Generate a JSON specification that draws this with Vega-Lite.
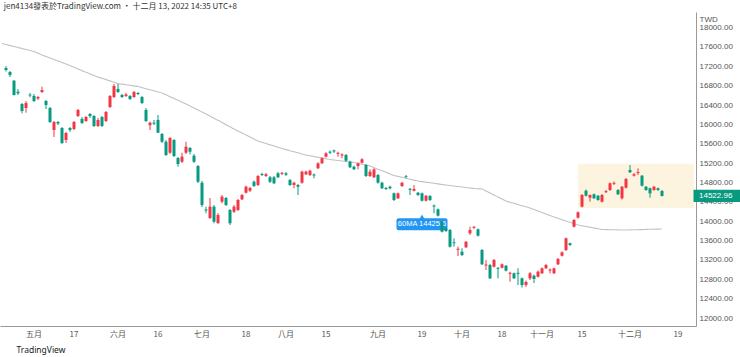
{
"$schema":"https://vega.github.io/schema/vega-lite/v6.json",
"width":696,"height":314,
"autosize":{"type":"none"},
"padding":{"left":0,"top":12,"right":44,"bottom":31},
"background":"#ffffff",
"title":{"text":"jen4134發表於TradingView.com · 十二月 13, 2022 14:35 UTC+8","anchor":"start","fontSize":8,"fontWeight":"normal","color":"#333333","font":"Noto Sans CJK TC","offset":1,"dx":4},
"config":{"view":{"stroke":null}},
"datasets":{
"box":[{"from":"2022-11-14","to":"2022-12-23","top":15190,"bottom":14275}],
"ann":[{"d":"2022-09-19","top":14060,"bottom":13814,"mid":13937,"tip":14090,"label":"60MA 14425.6"}],
"last":[{"d":"2022-12-23","p":14522.96,"top":14650,"bottom":14400,"label":"14522.96"}],
"bars":[
{"d":"2022-04-20","ma":17672},
{"d":"2022-04-21","o":17166,"h":17207,"l":17094,"c":17125,"ma":17652},
{"d":"2022-04-22","o":17083,"h":17104,"l":16980,"c":17021,"ma":17631},
{"d":"2022-04-25","o":16904,"h":16918,"l":16598,"c":16608,"ma":17610},
{"d":"2022-04-26","o":16676,"h":16732,"l":16608,"c":16643,"ma":17590},
{"d":"2022-04-27","o":16422,"h":16443,"l":16230,"c":16278,"ma":17569},
{"d":"2022-04-28","o":16340,"h":16484,"l":16243,"c":16443,"ma":17548},
{"d":"2022-04-29","o":16615,"h":16650,"l":16561,"c":16598,"ma":17528},
{"d":"2022-05-03","o":16588,"h":16629,"l":16464,"c":16484,"ma":17507},
{"d":"2022-05-04","o":16536,"h":16588,"l":16505,"c":16567,"ma":17472},
{"d":"2022-05-05","o":16670,"h":16780,"l":16650,"c":16712,"ma":17435},
{"d":"2022-05-06","o":16484,"h":16505,"l":16319,"c":16402,"ma":17404},
{"d":"2022-05-09","o":16340,"h":16360,"l":16030,"c":16050,"ma":17373},
{"d":"2022-05-10","o":15885,"h":16071,"l":15741,"c":16050,"ma":17342},
{"d":"2022-05-11","o":16050,"h":16071,"l":15988,"c":16019,"ma":17311},
{"d":"2022-05-12","o":15927,"h":15947,"l":15597,"c":15617,"ma":17280},
{"d":"2022-05-13","o":15679,"h":15844,"l":15617,"c":15823,"ma":17249},
{"d":"2022-05-16","o":15927,"h":15947,"l":15844,"c":15885,"ma":17216},
{"d":"2022-05-17","o":15906,"h":16071,"l":15885,"c":16050,"ma":17181},
{"d":"2022-05-18","o":16174,"h":16319,"l":16154,"c":16298,"ma":17145},
{"d":"2022-05-19","o":16112,"h":16154,"l":16009,"c":16030,"ma":17112},
{"d":"2022-05-20","o":16071,"h":16174,"l":16050,"c":16154,"ma":17079},
{"d":"2022-05-23","o":16216,"h":16236,"l":16133,"c":16174,"ma":17044},
{"d":"2022-05-24","o":16174,"h":16195,"l":15947,"c":15968,"ma":17011},
{"d":"2022-05-25","o":15968,"h":16133,"l":15947,"c":16092,"ma":16980},
{"d":"2022-05-26","o":16154,"h":16174,"l":15947,"c":15968,"ma":16953},
{"d":"2022-05-27","o":16071,"h":16278,"l":16050,"c":16257,"ma":16926},
{"d":"2022-05-30","o":16360,"h":16608,"l":16340,"c":16588,"ma":16900},
{"d":"2022-05-31","o":16567,"h":16836,"l":16546,"c":16794,"ma":16873},
{"d":"2022-06-01","o":16732,"h":16836,"l":16650,"c":16670,"ma":16846},
{"d":"2022-06-02","o":16608,"h":16629,"l":16546,"c":16567,"ma":16833},
{"d":"2022-06-06","o":16588,"h":16650,"l":16567,"c":16619,"ma":16821},
{"d":"2022-06-07","o":16588,"h":16608,"l":16505,"c":16526,"ma":16809},
{"d":"2022-06-08","o":16567,"h":16691,"l":16546,"c":16670,"ma":16796},
{"d":"2022-06-09","o":16650,"h":16670,"l":16608,"c":16629,"ma":16784},
{"d":"2022-06-10","o":16567,"h":16588,"l":16422,"c":16443,"ma":16761},
{"d":"2022-06-13","o":16298,"h":16340,"l":16050,"c":16071,"ma":16738},
{"d":"2022-06-14","o":15984,"h":16057,"l":15885,"c":16036,"ma":16716},
{"d":"2022-06-15","o":16036,"h":16092,"l":15988,"c":16015,"ma":16695},
{"d":"2022-06-16","o":16092,"h":16195,"l":15823,"c":15829,"ma":16672},
{"d":"2022-06-17","o":15803,"h":15823,"l":15617,"c":15643,"ma":16650},
{"d":"2022-06-20","o":15643,"h":15679,"l":15348,"c":15369,"ma":16612},
{"d":"2022-06-21","o":15416,"h":15741,"l":15389,"c":15720,"ma":16573},
{"d":"2022-06-22","o":15679,"h":15699,"l":15327,"c":15348,"ma":16536},
{"d":"2022-06-23","o":15307,"h":15327,"l":15127,"c":15183,"ma":16499},
{"d":"2022-06-24","o":15230,"h":15416,"l":15203,"c":15334,"ma":16460},
{"d":"2022-06-27","o":15416,"h":15643,"l":15389,"c":15540,"ma":16422},
{"d":"2022-06-28","o":15513,"h":15534,"l":15381,"c":15437,"ma":16381},
{"d":"2022-06-29","o":15354,"h":15389,"l":15203,"c":15230,"ma":16340},
{"d":"2022-06-30","o":15141,"h":15162,"l":14790,"c":14817,"ma":16298},
{"d":"2022-07-01","o":14796,"h":14832,"l":14294,"c":14336,"ma":16257},
{"d":"2022-07-04","o":14243,"h":14301,"l":14164,"c":14222,"ma":16216},
{"d":"2022-07-05","o":14067,"h":14480,"l":14046,"c":14301,"ma":16174},
{"d":"2022-07-06","o":14301,"h":14336,"l":13958,"c":13991,"ma":16129},
{"d":"2022-07-07","o":13964,"h":14170,"l":13943,"c":14129,"ma":16086},
{"d":"2022-07-08","o":14404,"h":14542,"l":14371,"c":14507,"ma":16040},
{"d":"2022-07-11","o":14480,"h":14501,"l":14315,"c":14336,"ma":15995},
{"d":"2022-07-12","o":14232,"h":14253,"l":13922,"c":13958,"ma":15951},
{"d":"2022-07-13","o":14197,"h":14336,"l":14170,"c":14301,"ma":15906},
{"d":"2022-07-14","o":14232,"h":14460,"l":14212,"c":14439,"ma":15865},
{"d":"2022-07-15","o":14453,"h":14563,"l":14439,"c":14542,"ma":15823},
{"d":"2022-07-18","o":14590,"h":14735,"l":14573,"c":14714,"ma":15782},
{"d":"2022-07-19","o":14631,"h":14708,"l":14604,"c":14687,"ma":15741},
{"d":"2022-07-20","o":14817,"h":14842,"l":14708,"c":14728,"ma":15699},
{"d":"2022-07-21","o":14749,"h":14956,"l":14728,"c":14935,"ma":15658},
{"d":"2022-07-22","o":14976,"h":15003,"l":14935,"c":14956,"ma":15631},
{"d":"2022-07-25","o":14935,"h":14997,"l":14914,"c":14970,"ma":15606},
{"d":"2022-07-26","o":14908,"h":14935,"l":14790,"c":14817,"ma":15579},
{"d":"2022-07-27","o":14908,"h":14935,"l":14770,"c":14784,"ma":15555},
{"d":"2022-07-28","o":14991,"h":15017,"l":14894,"c":14908,"ma":15528},
{"d":"2022-07-29","o":14980,"h":15017,"l":14956,"c":15001,"ma":15503},
{"d":"2022-08-01","o":14991,"h":15017,"l":14935,"c":14962,"ma":15480},
{"d":"2022-08-02","o":14852,"h":14873,"l":14728,"c":14749,"ma":15458},
{"d":"2022-08-03","o":14749,"h":14817,"l":14681,"c":14796,"ma":15435},
{"d":"2022-08-04","o":14749,"h":14770,"l":14542,"c":14714,"ma":15414},
{"d":"2022-08-05","o":14796,"h":15044,"l":14776,"c":15024,"ma":15391},
{"d":"2022-08-08","o":14970,"h":15044,"l":14956,"c":15024,"ma":15369},
{"d":"2022-08-09","o":14956,"h":15065,"l":14935,"c":15044,"ma":15353},
{"d":"2022-08-10","o":14966,"h":14986,"l":14887,"c":14945,"ma":15338},
{"d":"2022-08-11","o":15094,"h":15218,"l":15079,"c":15197,"ma":15322},
{"d":"2022-08-12","o":15197,"h":15321,"l":15183,"c":15301,"ma":15307},
{"d":"2022-08-15","o":15334,"h":15425,"l":15317,"c":15404,"ma":15291},
{"d":"2022-08-16","o":15437,"h":15462,"l":15389,"c":15416,"ma":15276},
{"d":"2022-08-17","o":15462,"h":15482,"l":15410,"c":15441,"ma":15265},
{"d":"2022-08-18","o":15393,"h":15437,"l":15334,"c":15414,"ma":15255},
{"d":"2022-08-19","o":15358,"h":15404,"l":15301,"c":15379,"ma":15245},
{"d":"2022-08-22","o":15369,"h":15389,"l":15230,"c":15251,"ma":15234},
{"d":"2022-08-23","o":15230,"h":15251,"l":15100,"c":15115,"ma":15224},
{"d":"2022-08-24","o":15127,"h":15148,"l":15059,"c":15073,"ma":15214},
{"d":"2022-08-25","o":15141,"h":15214,"l":15073,"c":15197,"ma":15195},
{"d":"2022-08-26","o":15210,"h":15301,"l":15193,"c":15280,"ma":15179},
{"d":"2022-08-29","o":15162,"h":15183,"l":14914,"c":14935,"ma":15160},
{"d":"2022-08-30","o":14935,"h":15073,"l":14914,"c":15024,"ma":15141},
{"d":"2022-08-31","o":14908,"h":15094,"l":14894,"c":15073,"ma":15108},
{"d":"2022-09-01","o":14956,"h":14976,"l":14776,"c":14796,"ma":15075},
{"d":"2022-09-02","o":14796,"h":14817,"l":14666,"c":14681,"ma":15042},
{"d":"2022-09-05","o":14687,"h":14708,"l":14646,"c":14666,"ma":15011},
{"d":"2022-09-06","o":14714,"h":14735,"l":14656,"c":14681,"ma":14978},
{"d":"2022-09-07","o":14577,"h":14594,"l":14418,"c":14439,"ma":14945},
{"d":"2022-09-08","o":14474,"h":14594,"l":14460,"c":14577,"ma":14927},
{"d":"2022-09-12","o":14728,"h":14811,"l":14708,"c":14796,"ma":14908},
{"d":"2022-09-13","o":14929,"h":14956,"l":14887,"c":14914,"ma":14889},
{"d":"2022-09-14","o":14670,"h":14687,"l":14542,"c":14650,"ma":14869},
{"d":"2022-09-15","o":14631,"h":14749,"l":14615,"c":14666,"ma":14850},
{"d":"2022-09-16","o":14590,"h":14604,"l":14522,"c":14542,"ma":14831},
{"d":"2022-09-19","o":14577,"h":14594,"l":14408,"c":14424,"ma":14819},
{"d":"2022-09-20","o":14424,"h":14542,"l":14408,"c":14528,"ma":14807},
{"d":"2022-09-21","o":14522,"h":14542,"l":14418,"c":14439,"ma":14795},
{"d":"2022-09-22","o":14325,"h":14346,"l":14164,"c":14305,"ma":14784},
{"d":"2022-09-23","o":14247,"h":14263,"l":14098,"c":14115,"ma":14772},
{"d":"2022-09-26","o":13991,"h":14011,"l":13768,"c":13784,"ma":14759},
{"d":"2022-09-27","o":13850,"h":13871,"l":13778,"c":13799,"ma":14749},
{"d":"2022-09-28","o":13819,"h":13840,"l":13458,"c":13474,"ma":14739},
{"d":"2022-09-29","o":13565,"h":13648,"l":13474,"c":13545,"ma":14728},
{"d":"2022-09-30","o":13410,"h":13474,"l":13282,"c":13431,"ma":14718},
{"d":"2022-10-03","o":13371,"h":13441,"l":13282,"c":13303,"ma":14708},
{"d":"2022-10-04","o":13462,"h":13592,"l":13447,"c":13577,"ma":14697},
{"d":"2022-10-05","o":13751,"h":13887,"l":13716,"c":13819,"ma":14687},
{"d":"2022-10-06","o":13865,"h":13902,"l":13840,"c":13885,"ma":14677},
{"d":"2022-10-07","o":13834,"h":13850,"l":13685,"c":13701,"ma":14671},
{"d":"2022-10-11","o":13406,"h":13427,"l":13096,"c":13111,"ma":14666},
{"d":"2022-10-12","o":13086,"h":13199,"l":12993,"c":13106,"ma":14625},
{"d":"2022-10-13","o":13096,"h":13117,"l":12807,"c":12821,"ma":14584},
{"d":"2022-10-14","o":13061,"h":13220,"l":13044,"c":13199,"ma":14542},
{"d":"2022-10-17","o":13038,"h":13055,"l":12821,"c":13018,"ma":14501},
{"d":"2022-10-18","o":13040,"h":13127,"l":13024,"c":13111,"ma":14460},
{"d":"2022-10-19","o":13082,"h":13096,"l":12962,"c":12978,"ma":14418},
{"d":"2022-10-20","o":12914,"h":12958,"l":12751,"c":12935,"ma":14394},
{"d":"2022-10-21","o":12925,"h":12941,"l":12807,"c":12821,"ma":14371},
{"d":"2022-10-24","o":12935,"h":13028,"l":12683,"c":12914,"ma":14346},
{"d":"2022-10-25","o":12821,"h":12838,"l":12631,"c":12683,"ma":14321},
{"d":"2022-10-26","o":12683,"h":12776,"l":12642,"c":12745,"ma":14299},
{"d":"2022-10-27","o":12821,"h":12951,"l":12786,"c":12925,"ma":14274},
{"d":"2022-10-28","o":12875,"h":12900,"l":12724,"c":12807,"ma":14243},
{"d":"2022-10-31","o":12854,"h":12982,"l":12838,"c":12958,"ma":14212},
{"d":"2022-11-01","o":12925,"h":13044,"l":12910,"c":13028,"ma":14181},
{"d":"2022-11-02","o":13028,"h":13117,"l":13013,"c":13096,"ma":14150},
{"d":"2022-11-03","o":12982,"h":13024,"l":12925,"c":13003,"ma":14119},
{"d":"2022-11-04","o":12925,"h":13044,"l":12910,"c":13028,"ma":14088},
{"d":"2022-11-07","o":13111,"h":13241,"l":13096,"c":13220,"ma":14061},
{"d":"2022-11-08","o":13288,"h":13375,"l":13272,"c":13358,"ma":14032},
{"d":"2022-11-09","o":13406,"h":13664,"l":13385,"c":13648,"ma":14005},
{"d":"2022-11-10","o":13545,"h":13561,"l":13489,"c":13509,"ma":13978},
{"d":"2022-11-11","o":13887,"h":14046,"l":13871,"c":14026,"ma":13949},
{"d":"2022-11-14","o":14073,"h":14201,"l":14057,"c":14185,"ma":13922},
{"d":"2022-11-15","o":14301,"h":14563,"l":14284,"c":14542,"ma":13907},
{"d":"2022-11-16","o":14631,"h":14656,"l":14511,"c":14528,"ma":13891},
{"d":"2022-11-17","o":14487,"h":14553,"l":14404,"c":14542,"ma":13876},
{"d":"2022-11-18","o":14557,"h":14573,"l":14460,"c":14474,"ma":13861},
{"d":"2022-11-21","o":14528,"h":14542,"l":14422,"c":14439,"ma":13845},
{"d":"2022-11-22","o":14404,"h":14563,"l":14387,"c":14542,"ma":13830},
{"d":"2022-11-23","o":14600,"h":14646,"l":14584,"c":14621,"ma":13828},
{"d":"2022-11-24","o":14646,"h":14801,"l":14629,"c":14784,"ma":13826},
{"d":"2022-11-25","o":14774,"h":14821,"l":14749,"c":14794,"ma":13824},
{"d":"2022-11-28","o":14646,"h":14666,"l":14542,"c":14557,"ma":13822},
{"d":"2022-11-29","o":14474,"h":14728,"l":14449,"c":14714,"ma":13819},
{"d":"2022-11-30","o":14693,"h":14894,"l":14677,"c":14873,"ma":13819},
{"d":"2022-12-01","o":15059,"h":15162,"l":14997,"c":15011,"ma":13822},
{"d":"2022-12-02","o":14941,"h":14997,"l":14924,"c":14970,"ma":13824},
{"d":"2022-12-05","o":14997,"h":15094,"l":14956,"c":15017,"ma":13826},
{"d":"2022-12-06","o":14941,"h":14956,"l":14718,"c":14735,"ma":13828},
{"d":"2022-12-07","o":14714,"h":14728,"l":14629,"c":14646,"ma":13832},
{"d":"2022-12-08","o":14681,"h":14697,"l":14486,"c":14577,"ma":13834},
{"d":"2022-12-09","o":14646,"h":14728,"l":14629,"c":14714,"ma":13836},
{"d":"2022-12-12","o":14681,"h":14697,"l":14625,"c":14646,"ma":13838},
{"d":"2022-12-13","o":14625,"h":14646,"l":14511,"c":14522.96,"ma":13840}
]},
"layer":[
{"data":{"name":"box"},
 "mark":{"type":"rect","color":"#fcf4df"},
 "encoding":{
  "x":{"field":"from","type":"ordinal","title":"TradingView",
   "scale":{"type":"band","paddingInner":0,"paddingOuter":0,"domain":["2022-04-20","2022-04-21","2022-04-22","2022-04-25","2022-04-26","2022-04-27","2022-04-28","2022-04-29","2022-05-03","2022-05-04","2022-05-05","2022-05-06","2022-05-09","2022-05-10","2022-05-11","2022-05-12","2022-05-13","2022-05-16","2022-05-17","2022-05-18","2022-05-19","2022-05-20","2022-05-23","2022-05-24","2022-05-25","2022-05-26","2022-05-27","2022-05-30","2022-05-31","2022-06-01","2022-06-02","2022-06-06","2022-06-07","2022-06-08","2022-06-09","2022-06-10","2022-06-13","2022-06-14","2022-06-15","2022-06-16","2022-06-17","2022-06-20","2022-06-21","2022-06-22","2022-06-23","2022-06-24","2022-06-27","2022-06-28","2022-06-29","2022-06-30","2022-07-01","2022-07-04","2022-07-05","2022-07-06","2022-07-07","2022-07-08","2022-07-11","2022-07-12","2022-07-13","2022-07-14","2022-07-15","2022-07-18","2022-07-19","2022-07-20","2022-07-21","2022-07-22","2022-07-25","2022-07-26","2022-07-27","2022-07-28","2022-07-29","2022-08-01","2022-08-02","2022-08-03","2022-08-04","2022-08-05","2022-08-08","2022-08-09","2022-08-10","2022-08-11","2022-08-12","2022-08-15","2022-08-16","2022-08-17","2022-08-18","2022-08-19","2022-08-22","2022-08-23","2022-08-24","2022-08-25","2022-08-26","2022-08-29","2022-08-30","2022-08-31","2022-09-01","2022-09-02","2022-09-05","2022-09-06","2022-09-07","2022-09-08","2022-09-12","2022-09-13","2022-09-14","2022-09-15","2022-09-16","2022-09-19","2022-09-20","2022-09-21","2022-09-22","2022-09-23","2022-09-26","2022-09-27","2022-09-28","2022-09-29","2022-09-30","2022-10-03","2022-10-04","2022-10-05","2022-10-06","2022-10-07","2022-10-11","2022-10-12","2022-10-13","2022-10-14","2022-10-17","2022-10-18","2022-10-19","2022-10-20","2022-10-21","2022-10-24","2022-10-25","2022-10-26","2022-10-27","2022-10-28","2022-10-31","2022-11-01","2022-11-02","2022-11-03","2022-11-04","2022-11-07","2022-11-08","2022-11-09","2022-11-10","2022-11-11","2022-11-14","2022-11-15","2022-11-16","2022-11-17","2022-11-18","2022-11-21","2022-11-22","2022-11-23","2022-11-24","2022-11-25","2022-11-28","2022-11-29","2022-11-30","2022-12-01","2022-12-02","2022-12-05","2022-12-06","2022-12-07","2022-12-08","2022-12-09","2022-12-12","2022-12-13","2022-12-14","2022-12-15","2022-12-16","2022-12-19","2022-12-20","2022-12-21","2022-12-22","2022-12-23"]},
   "axis":{"values":["2022-05-03","2022-05-17","2022-06-01","2022-06-16","2022-07-01","2022-07-18","2022-08-01","2022-08-15","2022-09-01","2022-09-19","2022-10-03","2022-10-18","2022-11-01","2022-11-15","2022-12-01","2022-12-19"],
    "labelExpr":"datum.value == '2022-05-03' ? '五月' : datum.value == '2022-06-01' ? '六月' : datum.value == '2022-07-01' ? '七月' : datum.value == '2022-08-01' ? '八月' : datum.value == '2022-09-01' ? '九月' : datum.value == '2022-10-03' ? '十月' : datum.value == '2022-11-01' ? '十一月' : datum.value == '2022-12-01' ? '十二月' : substring(datum.value, 8, 10)",
    "labelAngle":0,"labelOverlap":false,"ticks":false,"labelPadding":4,"labelFontSize":8,"labelColor":"#555555","labelFont":"Noto Sans CJK TC",
    "domainColor":"#9a9a9a","domainWidth":1,"grid":false,
    "titleX":16,"titleY":23,"titleAlign":"left","titleBaseline":"middle","titleFontSize":8.5,"titleFontWeight":"normal","titleColor":"#131722","titleFont":"Noto Sans"}},
  "x2":{"field":"to"},
  "y":{"field":"top","type":"quantitative","title":"TWD",
   "scale":{"domain":[11836,18323],"nice":false,"zero":false},
   "axis":{"orient":"right","values":[12000,12400,12800,13200,13600,14000,14400,14800,15200,15600,16000,16400,16800,17200,17600,18000],"tickCount":40,"format":".2f","ticks":false,"labelPadding":3,"labelFontSize":8,"labelColor":"#555555","labelFont":"Liberation Sans","labelOverlap":false,"labelBound":false,"domainColor":"#9a9a9a","grid":false,
    "titleAngle":0,"titleX":3,"titleY":7,"titleAlign":"left","titleBaseline":"middle","titleFontSize":8,"titleFontWeight":"normal","titleColor":"#555555","titleFont":"Liberation Sans"}},
  "y2":{"field":"bottom"}}},
{"data":{"name":"bars"},
 "mark":{"type":"line","color":"#c2c2c2","strokeWidth":1.1,"interpolate":"monotone"},
 "encoding":{"x":{"field":"d","type":"ordinal","title":"TradingView"},"y":{"field":"ma","type":"quantitative","title":"TWD"}}},
{"data":{"name":"ann"},
 "mark":{"type":"point","shape":"triangle-up","filled":true,"size":28,"color":"#2196f3","opacity":1},
 "encoding":{"x":{"field":"d","type":"ordinal","title":"TradingView"},"y":{"field":"tip","type":"quantitative","title":"TWD"}}},
{"data":{"name":"ann"},
 "mark":{"type":"bar","width":51,"color":"#2196f3","cornerRadius":2},
 "encoding":{"x":{"field":"d","type":"ordinal","title":"TradingView"},"y":{"field":"top","type":"quantitative","title":"TWD"},"y2":{"field":"bottom"}}},
{"data":{"name":"ann"},
 "mark":{"type":"text","color":"#ffffff","fontSize":7.5,"font":"Liberation Sans","align":"center","baseline":"middle"},
 "encoding":{"x":{"field":"d","type":"ordinal","title":"TradingView"},"y":{"field":"mid","type":"quantitative","title":"TWD"},"text":{"field":"label"}}},
{"data":{"name":"bars"},
 "mark":{"type":"rule","strokeWidth":1},
 "encoding":{"x":{"field":"d","type":"ordinal","title":"TradingView"},"y":{"field":"l","type":"quantitative","title":"TWD"},"y2":{"field":"h"},
  "color":{"condition":{"test":"datum.c >= datum.o","value":"#f23645"},"value":"#089981"}}},
{"data":{"name":"bars"},
 "mark":{"type":"bar","width":{"band":0.75}},
 "encoding":{"x":{"field":"d","type":"ordinal","title":"TradingView"},"y":{"field":"o","type":"quantitative","title":"TWD"},"y2":{"field":"c"},
  "color":{"condition":{"test":"datum.c >= datum.o","value":"#f23645"},"value":"#089981"}}},
{"data":{"name":"last"},
 "mark":{"type":"bar","width":47,"xOffset":23,"color":"#089981"},
 "encoding":{"x":{"field":"d","type":"ordinal","title":"TradingView"},"y":{"field":"top","type":"quantitative","title":"TWD"},"y2":{"field":"bottom"}}},
{"data":{"name":"last"},
 "mark":{"type":"text","color":"#ffffff","fontSize":8,"font":"Liberation Sans","align":"left","baseline":"middle","dx":5},
 "encoding":{"x":{"field":"d","type":"ordinal","title":"TradingView"},"y":{"field":"p","type":"quantitative","title":"TWD"},"text":{"field":"label"}}}
]
}
